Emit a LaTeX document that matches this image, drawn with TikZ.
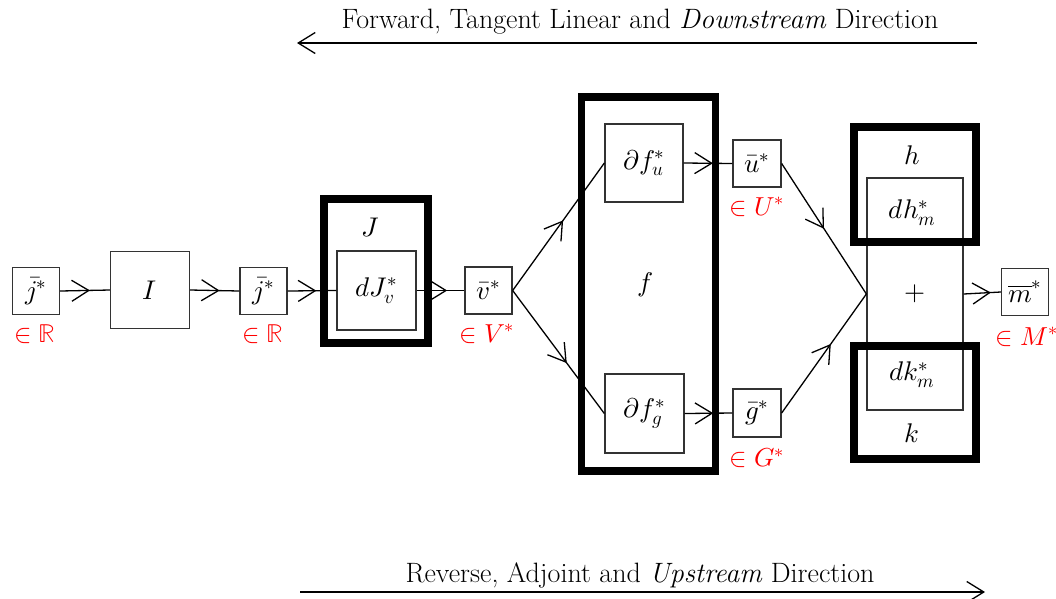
\documentclass[tikz,border=0pt]{standalone}
\usepackage{unicode-math}
\setmathfont{Latin Modern Math}
\usetikzlibrary{arrows.meta,decorations.markings}

\tikzset{
  box/.style={draw=black!80, line width=1.3pt, inner sep=0pt, font=\fontsize{27}{32}\selectfont},
  heavy/.style={draw=black, line width=7.5pt},
  tag/.style={text=red, inner sep=0pt, font=\fontsize{26}{30}\selectfont},
  lbl/.style={inner sep=0pt, font=\fontsize{27}{32}\selectfont},
  flow/.style={line width=1.3pt, postaction={decorate},
    decoration={markings, mark=at position #1 with
      {\arrow{Straight Barb[length=17pt,width=21pt,line width=1.3pt]}}}},
  flow/.default=0.6,
  course/.style={line width=1.3pt, -{Straight Barb[length=17pt,width=21pt,line width=1.3pt]}},
  caption/.style={inner sep=0pt, font=\fontsize{28}{32}\selectfont}
}

\begin{document}
\begin{tikzpicture}[x=1pt,y=-1pt]
\useasboundingbox (0,0) rectangle (1056,598);

% direction arrows
\coordinate (fwdS) at (977,43);
\coordinate (fwdE) at (297,43);
\draw[course] (fwdS) -- (fwdE);
\node[caption] (fwdT) at (640,22) {Forward, Tangent Linear and \textit{Downstream} Direction};

\coordinate (revS) at (300,592);
\coordinate (revE) at (985,592);
\draw[course] (revS) -- (revE);
\node[caption] (revT) at (640,575) {Reverse, Adjoint and \textit{Upstream} Direction};

% tall summation box with its inner texts
\node[box, minimum width=96pt, minimum height=232pt] (plus) at (915,294) {$+$};
\node[lbl] (dh) at (912,213) {$dh^*_m$};
\node[lbl] (dk) at (912,375) {$dk^*_m$};

% heavy frames of the operators J, f, h and k
\draw[heavy] (324,199) rectangle (428,343);
\draw[heavy] (581.5,97) rectangle (715.5,471);
\draw[heavy] (854,127) rectangle (976,242);
\draw[heavy] (854,346) rectangle (976,459);

\node[lbl] (Jl) at (370,228) {$J$};
\node[lbl] (fl) at (645,285) {$f$};
\node[lbl] (hl) at (912,155) {$h$};
\node[lbl] (kl) at (912,433) {$k$};

% small boxes
\node[box, minimum width=47pt, minimum height=47pt] (j1) at (36,291) {$\bar{j}^*$};
\node[box, minimum width=79pt, minimum height=77pt] (I) at (150,290) {$I$};
\node[box, minimum width=47pt, minimum height=47pt] (j2) at (263.5,291) {$\bar{j}^*$};
\node[box, minimum width=79pt, minimum height=79pt] (dJ) at (376.5,290.5) {$dJ^*_v$};
\node[box, minimum width=47pt, minimum height=47pt] (v) at (488.5,290.5) {$\bar{v}^*$};
\node[box, minimum width=78pt, minimum height=78pt] (dfu) at (644,163) {$\partial f^*_u$};
\node[box, minimum width=79pt, minimum height=79pt] (dfg) at (644.5,413.5) {$\partial f^*_g$};
\node[box, minimum width=48pt, minimum height=47pt] (u) at (757,163.5) {$\bar{u}^*$};
\node[box, minimum width=48pt, minimum height=48pt] (g) at (757,413) {$\bar{g}^*$};
\node[box, minimum width=47pt, minimum height=47pt] (m) at (1025,292) {$\overline{m}^*$};

% spaces
\node[tag] (t1) at (35,334) {$\in\mathbb{R}$};
\node[tag] (t2) at (263,334) {$\in\mathbb{R}$};
\node[tag] (t3) at (487,334) {$\in V^*$};
\node[tag] (t4) at (757,207) {$\in U^*$};
\node[tag] (t5) at (757,458) {$\in G^*$};
\node[tag] (t6) at (1027,337) {$\in M^*$};

% connectors
\draw[flow] (j1.east) -- (I.west);
\draw[flow] (I.east) -- (j2.west);
\draw[flow=0.59] (j2.east) -- (dJ.west);
\draw[flow=0.64] (dJ.east) -- (v.west);
\draw[flow=0.55] (v.east) -- (dfu.west);
\draw[flow=0.59] (v.east) -- (dfg.west);
\draw[flow] (dfu.east) -- (u.west);
\draw[flow] (dfg.east) -- (g.west);
\draw[flow=0.5] (u.east) -- (plus.west);
\draw[flow=0.58] (g.east) -- (plus.west);
\draw[flow=0.73] (plus.east) -- (m.west);
\end{tikzpicture}
\end{document}
